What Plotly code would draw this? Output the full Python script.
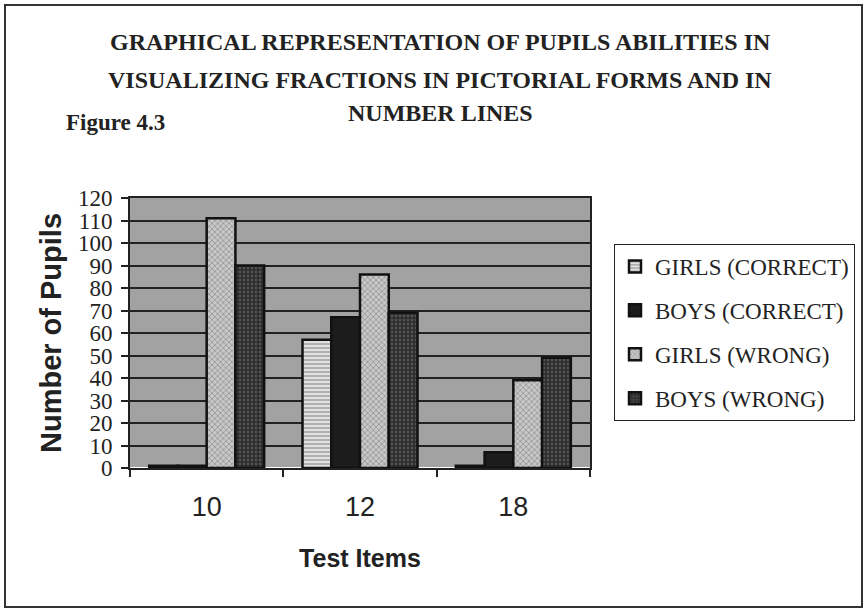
import plotly.graph_objects as go

# data
test_items = ['10', '12', '18']
girls_correct = [1, 57, 1]
boys_correct = [1, 67, 7]
girls_wrong = [111, 86, 39]
boys_wrong = [90, 69, 49]

W, H = 868, 611


def px_x(v):
    return v / W


def px_y(v):
    return 1 - v / H


fig = go.Figure()

series = [
    ('GIRLS (CORRECT)', girls_correct, dict(color='#d8d8d8', pattern=dict(shape='-', fgcolor='#555555', bgcolor='#e0e0e0', size=4, solidity=0.35))),
    ('BOYS (CORRECT)', boys_correct, dict(color='#1c1c1c')),
    ('GIRLS (WRONG)', girls_wrong, dict(color='#b0b0b0', pattern=dict(shape='x', fgcolor='#6a6a6a', bgcolor='#c8c8c8', size=4, solidity=0.4))),
    ('BOYS (WRONG)', boys_wrong, dict(color='#3a3a3a', pattern=dict(shape='.', fgcolor='#7a7a7a', bgcolor='#2a2a2a', size=4, solidity=0.4))),
]

for name, vals, mk in series:
    fig.add_trace(go.Bar(
        x=test_items,
        y=vals,
        name=name,
        legendgroup=name,
        marker=dict(**mk, line=dict(color='#111111', width=2.5)),
    ))

fig.update_layout(
    width=W,
    height=H,
    margin=dict(l=0, r=0, t=0, b=0, autoexpand=False),
    paper_bgcolor='white',
    plot_bgcolor='#a2a2a2',
    barmode='group',
    bargap=0.25,
    bargroupgap=0,
    showlegend=True,
    legend=dict(
        x=px_x(614), y=px_y(244), xanchor='left', yanchor='top',
        bordercolor='#222222', borderwidth=1, bgcolor='white',
        font=dict(family='Liberation Serif', size=23, color='#222222'),
        tracegroupgap=11, itemwidth=30,
    ),
    xaxis=dict(
        domain=[px_x(130), px_x(590)],
        type='category',
        automargin=False,
        tickson='boundaries',
        ticks='outside', ticklen=7, tickcolor='#222222', tickwidth=2,
        ticklabelstandoff=14,
        showline=True, linecolor='#222222', linewidth=2, mirror=True,
        tickfont=dict(family='Liberation Sans', size=27, color='#222222'),
        title=dict(text='<b>Test Items</b>', standoff=28,
                   font=dict(family='Liberation Sans', size=25, color='#222222')),
    ),
    yaxis=dict(
        domain=[px_y(468), px_y(198)],
        automargin=False,
        range=[0, 120], dtick=10,
        ticks='outside', ticklen=7, tickcolor='#222222', tickwidth=2,
        ticklabelstandoff=4,
        showgrid=True, gridcolor='#222222', gridwidth=2,
        showline=True, linecolor='#222222', linewidth=2, mirror=True,
        tickfont=dict(family='Liberation Serif', size=23, color='#222222'),
        title=dict(text='<b>Number of Pupils</b>', standoff=8,
                   font=dict(family='Liberation Sans', size=29, color='#222222')),
    ),
)

title_lines = [
    ('GRAPHICAL REPRESENTATION OF PUPILS ABILITIES IN', 42),
    ('VISUALIZING FRACTIONS IN PICTORIAL FORMS AND IN', 80),
    ('NUMBER LINES', 113),
]
for txt, yy in title_lines:
    fig.add_annotation(
        x=px_x(440), y=px_y(yy), xref='paper', yref='paper', yanchor='middle',
        text='<b>' + txt + '</b>', showarrow=False,
        font=dict(family='Liberation Serif', size=24, color='#222222'),
    )

fig.add_annotation(
    x=px_x(64), y=px_y(122), xref='paper', yref='paper', xanchor='left', yanchor='middle',
    text='<b>Figure 4.3</b>', showarrow=False,
    font=dict(family='Liberation Serif', size=23, color='#222222'),
)

# outer frame of the chart
fig.add_shape(type='rect', xref='paper', yref='paper',
              x0=px_x(5), x1=px_x(862), y0=px_y(607), y1=px_y(5),
              line=dict(color='#333333', width=2))

fig.write_html('out.html', config={'displayModeBar': False},
               post_script="document.body.style.margin='0';document.body.style.overflow='hidden';")
